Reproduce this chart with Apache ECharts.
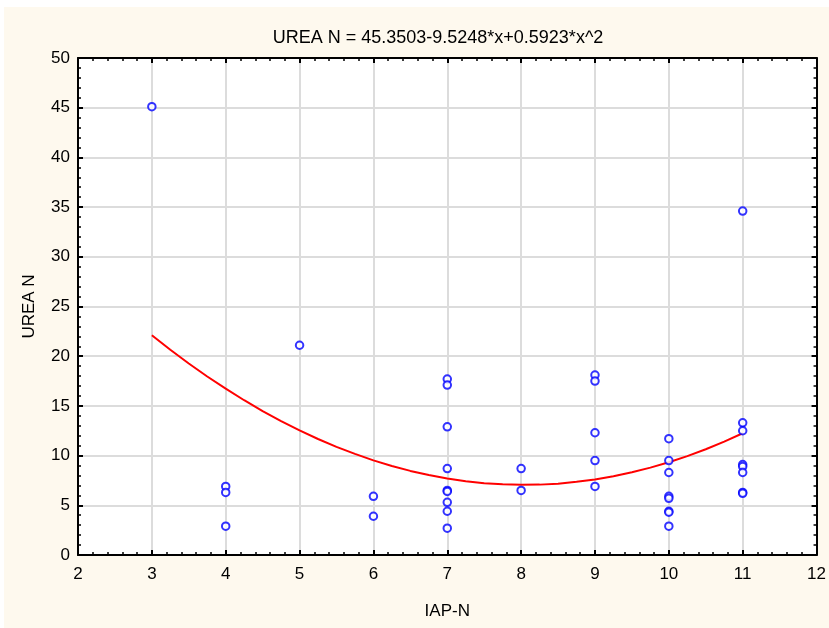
<!DOCTYPE html>
<html>
<head>
<meta charset="utf-8">
<script src="https://cdn.jsdelivr.net/npm/echarts@6/dist/echarts.min.js"></script>
<style>html,body{margin:0;padding:0;background:#fff}#c{width:829px;height:628px}</style>
</head>
<body>
<div id="c"></div>
<script>
// Scatter points: [IAP-N, UREA N]
const iapN = [3, 4, 4, 4, 5, 6, 6, 7, 7, 7, 7, 7, 7, 7, 7, 7, 8, 8, 9, 9, 9, 9, 9, 10, 10, 10, 10, 10, 10, 10, 10, 11, 11, 11, 11, 11, 11, 11, 11];
const ureaN = [45.1, 6.9, 6.3, 2.9, 21.1, 5.9, 3.9, 17.7, 17.1, 12.9, 8.7, 6.5, 6.4, 5.3, 4.4, 2.7, 8.7, 6.5, 18.1, 17.5, 12.3, 9.5, 6.9, 11.7, 9.5, 8.3, 5.9, 5.7, 4.4, 4.3, 2.9, 34.6, 13.3, 12.5, 9.1, 8.9, 8.3, 6.3, 6.2];
// Fitted curve
const fitX = [3, 3.25, 3.5, 3.75, 4, 4.25, 4.5, 4.75, 5, 5.25, 5.5, 5.75, 6, 6.25, 6.5, 6.75, 7, 7.25, 7.5, 7.75, 8, 8.25, 8.5, 8.75, 9, 9.25, 9.5, 9.75, 10, 10.25, 10.5, 10.75, 11];
const fitY = [22.11, 20.65, 19.27, 17.96, 16.73, 15.57, 14.48, 13.47, 12.53, 11.67, 10.88, 10.17, 9.52, 8.96, 8.46, 8.04, 7.70, 7.43, 7.23, 7.11, 7.06, 7.08, 7.18, 7.36, 7.60, 7.92, 8.32, 8.79, 9.33, 9.95, 10.64, 11.41, 12.25];
const xTicks = [2, 12, 1];
const yTicks = [0, 50, 5];
const titleText = 'UREA N = 45.3503-9.5248*x+0.5923*x^2';
const xName = 'IAP-N';
const yName = 'UREA N';

const font = 'Liberation Sans Narrow, Arial Narrow, Liberation Sans, Arial, sans-serif';
const scatterData = iapN.map((x, i) => [x, ureaN[i]]);
const fitData = fitX.map((x, i) => [x, fitY[i]]);

function axisBase(extra) {
  return Object.assign({
    type: 'value',
    axisLine: { show: true, onZero: false, lineStyle: { color: '#000', width: 2 } },
    axisTick: { show: true, inside: true, length: 5, lineStyle: { color: '#000', width: 2 } },
    minorTick: { show: true, splitNumber: 5, length: 3, lineStyle: { color: '#000', width: 1.5 } },
    splitLine: { show: false },
    minorSplitLine: { show: false }
  }, extra);
}

const chart = echarts.init(document.getElementById('c'));
chart.setOption({
  backgroundColor: '#FEF9EE',
  animation: false,
  title: {
    text: titleText, left: 433, top: 24, textAlign: 'center',
    textStyle: { fontFamily: font, fontSize: 18, fontWeight: 'normal', color: '#000' }
  },
  grid: { left: 78, top: 58, right: 8, bottom: 73, show: true, backgroundColor: '#fff', borderWidth: 0 },
  xAxis: [
    axisBase({
      min: xTicks[0], max: xTicks[1], interval: xTicks[2], position: 'bottom',
      name: xName, nameLocation: 'middle', nameGap: 48,
      nameTextStyle: { fontFamily: font, fontSize: 17, color: '#000' },
      axisLabel: { fontFamily: font, fontSize: 17, color: '#000', margin: 11 },
      splitLine: { show: true, lineStyle: { color: '#DCDCDC', width: 2 } }
    }),
    axisBase({
      min: xTicks[0], max: xTicks[1], interval: xTicks[2], position: 'top',
      axisLabel: { show: false }
    })
  ],
  yAxis: [
    axisBase({
      min: yTicks[0], max: yTicks[1], interval: yTicks[2], position: 'left',
      name: yName, nameLocation: 'middle', nameGap: 40, nameRotate: 90,
      nameTextStyle: { fontFamily: font, fontSize: 17, color: '#000' },
      axisLabel: { fontFamily: font, fontSize: 17, color: '#000', margin: 8 },
      splitLine: { show: true, lineStyle: { color: '#DCDCDC', width: 2 } }
    }),
    axisBase({
      min: yTicks[0], max: yTicks[1], interval: yTicks[2], position: 'right',
      axisLabel: { show: false }
    })
  ],
  graphic: [
    { type: 'rect', z: 100, shape: { x: 0, y: 0, width: 829, height: 7 }, style: { fill: '#fff' } },
    { type: 'rect', z: 100, shape: { x: 0, y: 0, width: 4, height: 628 }, style: { fill: '#fff' } }
  ],
  series: [
    {
      type: 'line', data: fitData, smooth: false, showSymbol: false, z: 3,
      lineStyle: { color: '#FF0000', width: 2 }
    },
    {
      type: 'scatter', data: scatterData, symbol: 'circle', symbolSize: 7.5, z: 4,
      itemStyle: { color: '#fff', borderColor: '#0000FF', borderWidth: 2 }
    }
  ]
});
</script>
</body>
</html>
